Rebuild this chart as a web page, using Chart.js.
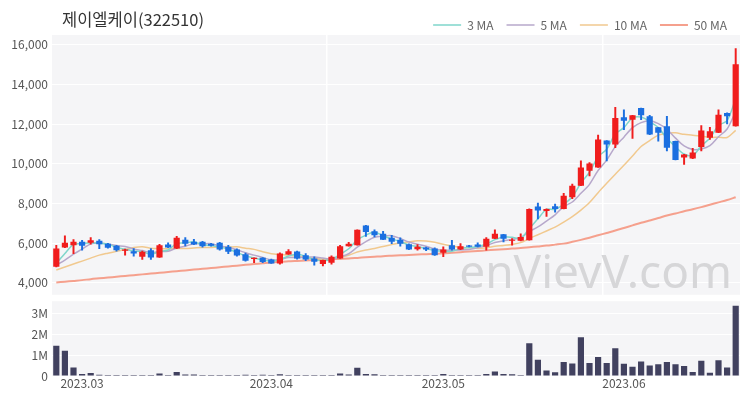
<!DOCTYPE html>
<html>
<head>
<meta charset="utf-8">
<script src="https://cdn.jsdelivr.net/npm/chart.js@4"></script>
<style>
  html, body { margin: 0; padding: 0; background: #fff; overflow: hidden; }
  #priceBox { width: 750px; height: 306px; position: relative; }
  #volBox { width: 750px; height: 110px; position: relative; margin-top: -16px; }
</style>
</head>
<body>
<div id="priceBox"><canvas id="priceChart"></canvas></div>
<div id="volBox"><canvas id="volChart"></canvas></div>
<script>
const title = '제이엘케이(322510)';
const watermark = 'enVievV.com';

const dates = [
  '2023-02-24','2023-02-27','2023-02-28',
  '2023-03-02','2023-03-03','2023-03-06','2023-03-07','2023-03-08','2023-03-09','2023-03-10',
  '2023-03-13','2023-03-14','2023-03-15','2023-03-16','2023-03-17','2023-03-20','2023-03-21',
  '2023-03-22','2023-03-23','2023-03-24','2023-03-27','2023-03-28','2023-03-29','2023-03-30','2023-03-31',
  '2023-04-03','2023-04-04','2023-04-05','2023-04-06','2023-04-07','2023-04-10','2023-04-11',
  '2023-04-12','2023-04-13','2023-04-14','2023-04-17','2023-04-18','2023-04-19','2023-04-20',
  '2023-04-21','2023-04-24','2023-04-25','2023-04-26','2023-04-27','2023-04-28',
  '2023-05-01','2023-05-02','2023-05-03','2023-05-04','2023-05-08','2023-05-09','2023-05-10',
  '2023-05-11','2023-05-12','2023-05-15','2023-05-16','2023-05-17','2023-05-18','2023-05-19',
  '2023-05-22','2023-05-23','2023-05-24','2023-05-25','2023-05-26','2023-05-30','2023-05-31',
  '2023-06-01','2023-06-02','2023-06-05','2023-06-07','2023-06-08','2023-06-09','2023-06-12',
  '2023-06-13','2023-06-14','2023-06-15','2023-06-16','2023-06-19','2023-06-20','2023-06-21'
];

const opens = [
  4820,5780,5900,6070,6020,6120,5980,5870,5620,5600,
  5320,5650,5280,5930,5730,6180,6070,6070,5980,6020,
  5820,5680,5450,5200,5270,5180,4980,5430,5580,5400,
  5230,4950,5020,5230,5850,5900,6900,6600,6480,6280,
  6180,5950,5700,5780,5730,5520,5900,5680,5880,5930,
  5820,6230,6450,6120,6120,6150,7850,7620,7870,7730,
  8320,8900,9650,9820,11180,10980,12350,12230,12820,12400,
  11850,11900,11150,10320,10270,10850,11320,11570,12570,11900
];
const highs = [
  5900,6370,6180,6150,6280,6180,6000,5900,5700,5730,
  5600,5730,5950,6020,6350,6280,6200,6100,6000,6050,
  5900,5720,5500,5270,5280,5200,5520,5680,5600,5480,
  5320,5150,5370,5900,6050,6680,6900,6680,6600,6400,
  6270,5970,5930,5800,5770,5820,6150,5980,5900,6020,
  6280,6680,6450,6230,6480,7730,8020,7730,7980,8520,
  8980,10150,10070,11450,11180,12850,12730,12450,12820,12450,
  11850,12400,11150,10480,10780,11930,11850,12730,12570,15820
];
const lows = [
  4800,5780,5480,5650,5950,5730,5750,5600,5400,5350,
  5180,5180,5280,5780,5730,5870,5930,5800,5850,5650,
  5480,5350,5100,5020,5020,4980,4950,5430,5200,5120,
  4900,4850,4950,5230,5850,5900,6350,6320,6180,5980,
  5850,5680,5650,5620,5380,5320,5650,5680,5820,5820,
  5650,6230,6070,5900,6120,6150,7230,7350,7570,7730,
  8250,8900,9400,9820,10150,10820,11730,11280,12230,11480,
  11150,10650,10200,9980,10270,10650,11230,11570,12020,11900
];
const closes = [
  5730,6020,6070,5870,6150,5950,5770,5650,5680,5480,
  5570,5280,5900,5780,6280,5980,5930,5850,5870,5680,
  5570,5380,5120,5270,5050,4980,5480,5600,5230,5180,
  5070,5150,5320,5850,5980,6680,6570,6400,6180,6070,
  5980,5680,5820,5680,5400,5680,5680,5850,5820,5820,
  6230,6480,6230,6180,6320,7730,7650,7730,7730,8400,
  8900,9820,10020,11230,10980,12320,12180,12450,12450,11480,
  11570,10820,10200,10480,10570,11680,11650,12480,12400,15020
];

const volumes = [
  1460000,1210000,410000,100000,150000,60000,50000,50000,50000,50000,
  50000,50000,120000,50000,190000,70000,70000,50000,50000,50000,
  50000,50000,60000,50000,60000,50000,80000,50000,50000,50000,
  50000,50000,50000,120000,70000,400000,100000,80000,50000,50000,
  50000,50000,50000,50000,50000,100000,50000,50000,50000,50000,
  100000,220000,100000,90000,50000,1580000,780000,270000,180000,670000,
  600000,1860000,630000,920000,630000,1330000,590000,440000,700000,510000,
  560000,670000,560000,480000,190000,730000,160000,760000,410000,3380000
];

const ma3 = [
  4980,5480,5940,5980,6030,5990,5960,5790,5700,5610,
  5580,5440,5580,5660,5990,6020,6070,5920,5880,5800,
  5710,5540,5360,5260,5150,5100,5170,5360,5440,5340,
  5160,5130,5180,5440,5720,6170,6410,6550,6380,6220,
  6080,5910,5830,5730,5630,5590,5590,5740,5780,5830,
  5960,6180,6320,6300,6240,6740,7230,7710,7710,7960,
  8340,9040,9580,10360,10740,11510,11830,12320,12360,12130,
  11830,11290,10860,10500,10420,10910,11300,11940,12180,13300
];
const ma5 = [
  4900,5150,5450,5700,5970,6010,5960,5880,5840,5710,
  5630,5530,5580,5600,5760,5850,5980,5970,5980,5860,
  5780,5670,5520,5400,5280,5160,5180,5280,5270,5300,
  5310,5250,5190,5310,5470,5800,6080,6300,6360,6380,
  6240,6060,5950,5850,5710,5650,5650,5660,5690,5770,
  5880,6040,6120,6190,6290,6590,6820,7120,7430,7850,
  8080,8520,8970,9670,10190,10870,11350,11830,12080,12180,
  12030,11750,11300,10910,10730,10750,10920,11370,11760,12650
];
const ma10 = [
  4650,4800,4950,5100,5250,5400,5500,5590,5680,5780,
  5820,5750,5730,5720,5740,5740,5760,5780,5790,5810,
  5810,5820,5750,5690,5570,5470,5430,5400,5340,5290,
  5240,5210,5230,5290,5390,5560,5660,5740,5840,5930,
  6020,6070,6120,6110,6050,5950,5860,5800,5770,5740,
  5770,5850,5890,5940,6030,6240,6430,6620,6810,7070,
  7340,7670,8050,8550,9020,9480,9930,10400,10880,11180,
  11450,11550,11570,11490,11450,11390,11340,11340,11330,11690
];
const ma50 = [
  4020,4060,4100,4140,4190,4230,4270,4310,4350,4390,
  4430,4470,4510,4550,4590,4630,4670,4710,4750,4790,
  4830,4870,4910,4950,4990,5030,5060,5090,5110,5130,
  5150,5170,5190,5210,5230,5260,5290,5320,5350,5370,
  5390,5410,5430,5450,5470,5490,5520,5550,5580,5610,
  5640,5670,5700,5730,5760,5800,5840,5880,5930,5980,
  6070,6170,6280,6400,6520,6640,6770,6900,7030,7150,
  7270,7400,7500,7610,7710,7820,7940,8060,8180,8320
];

const priceTicks = [4000, 6000, 8000, 10000, 12000, 14000, 16000];
const volTicks = [0, 1000000, 2000000, 3000000];

const UP = '#f01d1d';
const DOWN = '#1b6fe0';
const candleColor = (i) => closes[i] >= opens[i] ? UP : DOWN;

Chart.defaults.font.family = "'Noto Sans CJK KR', 'Noto Sans', sans-serif";
Chart.defaults.font.size = 12;
Chart.defaults.color = '#555';

const plotBg = {
  id: 'plotBg',
  beforeDraw(chart) {
    const a = chart.chartArea;
    const c = chart.ctx;
    c.save();
    c.fillStyle = '#f5f5f7';
    c.fillRect(a.left, a.top, a.right - a.left, a.bottom - a.top);
    c.restore();
  }
};

const priceDecor = {
  id: 'priceDecor',
  afterLayout(chart) {
    // legend sits on the same row as the title, a little lower than default
    if (chart.legend) {
      chart.legend.top += 6;
      chart.legend.bottom += 6;
    }
  },
  beforeDatasetsDraw(chart) {
    const a = chart.chartArea;
    const c = chart.ctx;
    c.save();
    c.font = "46px 'Noto Sans', sans-serif";
    c.fillStyle = '#d6d6d8';
    c.textAlign = 'right';
    c.textBaseline = 'alphabetic';
    c.fillText(watermark, a.right - 8, a.bottom - 7);
    c.restore();
  },
  afterDraw(chart) {
    const c = chart.ctx;
    c.save();
    c.font = "16.5px 'Noto Sans CJK KR', sans-serif";
    c.fillStyle = '#333';
    c.textAlign = 'left';
    c.textBaseline = 'middle';
    c.fillText(title, 62, 20);
    c.restore();
  }
};

const fixWidth = (scale) => { scale.width = 52; };

new Chart(document.getElementById('priceChart'), {
  type: 'bar',
  data: {
    labels: dates,
    datasets: [
      { type: 'line', label: '3 MA', data: ma3, borderColor: '#7fd6cb', borderWidth: 1.5, pointRadius: 0, tension: 0.3, order: 3 },
      { type: 'line', label: '5 MA', data: ma5, borderColor: '#b7a8cb', borderWidth: 1.5, pointRadius: 0, tension: 0.3, order: 3 },
      { type: 'line', label: '10 MA', data: ma10, borderColor: '#f1c98f', borderWidth: 1.5, pointRadius: 0, tension: 0.3, order: 3 },
      { type: 'line', label: '50 MA', data: ma50, borderColor: '#f5a08d', borderWidth: 2, pointRadius: 0, tension: 0.3, order: 3 },
      {
        label: 'wick',
        data: lows.map((l, i) => [l, highs[i]]),
        backgroundColor: (ctx) => candleColor(ctx.dataIndex),
        barThickness: 1.3,
        grouped: false,
        order: 2
      },
      {
        label: 'body',
        data: opens.map((o, i) => [o, closes[i]]),
        backgroundColor: (ctx) => candleColor(ctx.dataIndex),
        barPercentage: 0.72,
        categoryPercentage: 1,
        minBarLength: 1,
        grouped: false,
        order: 1
      }
    ]
  },
  options: {
    responsive: true,
    maintainAspectRatio: false,
    animation: false,
    layout: { padding: { left: 0, right: 10, top: 0, bottom: 2 } },
    plugins: {
      tooltip: { enabled: false },
      legend: {
        position: 'top',
        align: 'end',
        labels: {
          filter: (item) => item.text.indexOf('MA') > 0,
          usePointStyle: true,
          pointStyle: 'line',
          pointStyleWidth: 28,
          boxHeight: 12,
          padding: 13,
          color: '#666',
          font: { size: 12 }
        }
      }
    },
    scales: {
      x: {
        ticks: { display: false },
        border: { display: false },
        grid: {
          drawTicks: false,
          color: (ctx) => (ctx.index > 0 && ctx.index % 32 === 0) ? '#ffffff' : 'rgba(0,0,0,0)',
          lineWidth: 1.5
        }
      },
      y: {
        min: 3400,
        max: 16500,
        afterBuildTicks: (scale) => { scale.ticks = priceTicks.map(v => ({ value: v })); },
        afterFit: fixWidth,
        border: { display: false },
        grid: { color: '#ffffff', drawTicks: false, lineWidth: 1 },
        ticks: {
          padding: 4,
          callback: (v) => v.toLocaleString('en-US')
        }
      }
    }
  },
  plugins: [plotBg, priceDecor]
});

new Chart(document.getElementById('volChart'), {
  type: 'bar',
  data: {
    labels: dates,
    datasets: [{
      label: '거래량',
      data: volumes,
      backgroundColor: '#41415f',
      barPercentage: 0.72,
      categoryPercentage: 1
    }]
  },
  options: {
    responsive: true,
    maintainAspectRatio: false,
    animation: false,
    layout: { padding: { left: 0, right: 10, top: 0, bottom: 0 } },
    plugins: { legend: { display: false }, tooltip: { enabled: false } },
    scales: {
      x: {
        afterFit: (scale) => { scale.height = 24; },
        border: { display: false },
        grid: { display: false, drawTicks: false },
        ticks: {
          autoSkip: false,
          maxRotation: 0,
          padding: 0,
          color: '#555',
          callback: (v, i) => {
            if (i === 0) return '';
            const cur = dates[i].slice(0, 7);
            const prev = dates[i - 1].slice(0, 7);
            return cur !== prev ? cur.replace('-', '.') : '';
          }
        }
      },
      y: {
        min: 0,
        max: 3600000,
        afterBuildTicks: (scale) => { scale.ticks = volTicks.map(v => ({ value: v })); },
        afterFit: fixWidth,
        border: { display: false },
        grid: { color: '#ffffff', drawTicks: false },
        ticks: {
          padding: 4,
          callback: (v) => v === 0 ? '0' : (v / 1000000) + 'M'
        }
      }
    }
  },
  plugins: [plotBg]
});
</script>
</body>
</html>
